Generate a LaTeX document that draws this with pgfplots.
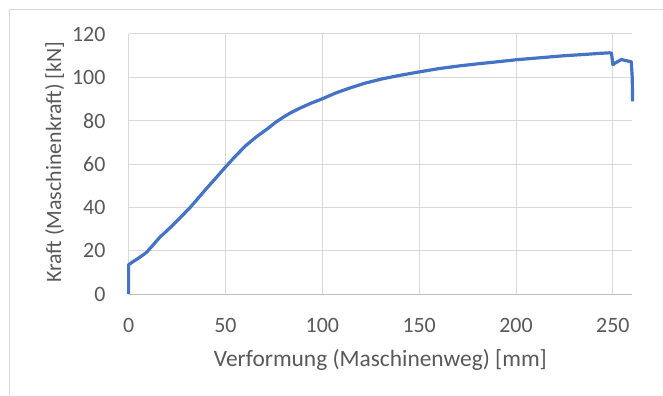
\documentclass[border=0pt]{standalone}
\usepackage{fontspec}
\setmainfont{Carlito}
\usepackage{pgfplots}
\pgfplotsset{compat=1.18}
\definecolor{xlblue}{HTML}{4472C4}
\definecolor{xlgrid}{HTML}{D9D9D9}
\definecolor{xlaxis}{HTML}{BFBFBF}
\definecolor{xltext}{HTML}{595959}
\begin{document}
\begin{tikzpicture}[x=1bp,y=1bp]
% chart area with its border
\fill[white] (0,0) rectangle (663,395);
\draw[xlgrid, line width=1bp] (9.5,0) -- (9.5,385.5) -- (663,385.5);
\begin{axis}[
  at={(128.7bp,100.7bp)}, anchor=south west,
  scale only axis, width=504bp, height=260.3bp,
  xmin=0, xmax=260, ymin=0, ymax=120,
  xtick={0,50,...,250}, ytick={0,20,...,120},
  major tick length=0pt,
  axis line style={draw=none},
  grid=major,
  major grid style={xlgrid, line width=1bp},
  clip=false,
  font=\fontsize{22}{26}\selectfont,
  /pgf/number format/assume math mode=true,
  ticklabel style={text=xltext, inner sep=0pt},
  yticklabel style={anchor=east, xshift=-23bp},
  xticklabel style={anchor=north, yshift=-24bp},
  xlabel={Verformung (Maschinenweg) [mm]},
  ylabel={Kraft (Maschinenkraft) [kN]},
  label style={text=xltext, inner sep=0pt},
  xlabel style={at={(rel axis cs:0.5,0)}, anchor=base, yshift=-72.7bp,
    font=\fontsize{23.5}{28}\selectfont},
  ylabel style={at={(rel axis cs:0,0.5)}, anchor=base, yshift=67.5bp,
    xshift=1.7bp, font=\fontsize{22}{26}\selectfont},
]
% horizontal axis line
\draw[xlaxis, line width=1bp] (rel axis cs:0,0) -- (rel axis cs:1,0);
\addplot[xlblue, line width=3.2bp, line join=round, no markers] coordinates {
  (0,0) (0,13.5) (2,14.8) (5,16.5) (9.2,19.2) (12,22) (16.1,26.2)
  (19.5,29) (22.9,31.9) (27,35.6) (31.5,39.7) (35.5,43.8) (40,48.5)
  (45,53.5) (49.6,58.2) (55,63.5) (60.5,68.5) (66,72.6) (71.6,76.2)
  (76,79.3) (80,81.7) (84,83.8) (88.5,85.8) (94,88) (100,90.1)
  (107,92.8) (114.3,95.1) (122,97.3) (131.5,99.4) (140,100.9)
  (150,102.5) (160,104) (171,105.3) (181,106.3) (191.8,107.3)
  (200,108.1) (212,109) (224,109.9) (236,110.6) (244,111.1)
  (248.3,111.3) (249.3,111.2) (250,105.8) (251,106.5) (254.4,108.2)
  (257.8,107.5) (259.5,107.2) (260,100) (260.2,88.9)
};
\end{axis}
\end{tikzpicture}
\end{document}
